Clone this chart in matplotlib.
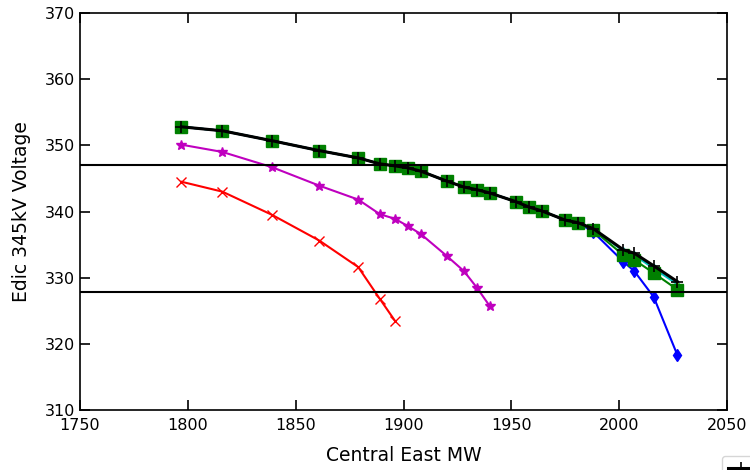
import numpy as np
import matplotlib
matplotlib.use("Agg")
import matplotlib.pyplot as plt

# Central East MW transfer levels
mw = [1797, 1816, 1839, 1861, 1879, 1889, 1896, 1902, 1908, 1920, 1928, 1934,
      1940, 1952, 1958, 1964, 1975, 1981, 1988, 2002, 2007, 2016, 2027]

# common upper part of the four overlapping cases
v_base = [352.8, 352.2, 350.7, 349.2, 348.1, 347.2, 346.9, 346.6, 346.1, 344.6,
          343.7, 343.3, 342.8, 341.5, 340.7, 340.1, 338.7, 338.3]

v_blue = v_base + [336.9, 332.4, 331.0, 327.1, 318.3]
v_cyan = v_base + [337.4, 334.0, 333.4, 331.4, 329.0]
v_green = v_base + [337.2, 333.4, 332.7, 330.7, 328.2]
v_black = v_base + [337.4, 334.2, 333.7, 331.8, 329.4]

mw_mag = mw[:13]
v_mag = [350.1, 349.0, 346.7, 343.9, 341.8, 339.6, 338.9, 337.8, 336.6, 333.3,
         331.0, 328.5, 325.7]

mw_red = mw[:7]
v_red = [344.5, 343.0, 339.5, 335.6, 331.6, 326.8, 323.5]

limits = [347.1, 327.8]

fig = plt.figure(figsize=(7.5, 4.7), dpi=100)
ax = fig.add_axes([0.1067, 0.1277, 0.8626, 0.8446])

lw = 1.5
ax.plot(mw, v_blue, color="b", marker="d", ms=6, lw=lw, label="case 1")
ax.plot(mw, v_cyan, color="c", marker="^", ms=6, lw=lw, label="case 2")
ax.plot(mw, v_cyan, color="y", marker=".", ms=3, lw=0, label="case 3")
ax.plot(mw, v_green, color="g", marker="s", ms=8, lw=lw, label="case 4")
ax.plot(mw, v_black, color="k", marker="+", ms=9, mew=1.2, lw=2.2, label="case 5")
ax.plot(mw_mag, v_mag, color="m", marker="*", ms=7, lw=lw, label="case 6")
ax.plot(mw_red, v_red, color="r", marker="x", ms=7, lw=lw, label="case 7")

for v in limits:
    ax.axhline(v, color="k", lw=1.5)

ax.set_xlim(1750, 2050)
ax.set_ylim(310, 370)
ax.set_xticks(np.arange(1750, 2051, 50))
ax.set_yticks(np.arange(310, 371, 10))
ax.tick_params(direction="in", top=True, right=True, length=7, width=1.2, labelsize=11.5)
ax.tick_params(axis="x", pad=6)
for s in ax.spines.values():
    s.set_linewidth(1.2)

ax.set_xlabel("Central East MW", fontsize=13.5, labelpad=9)
ax.set_ylabel("Edic 345kV Voltage", fontsize=13.5, labelpad=10)

# legend sits mostly off the canvas, as in the original
handles, labels = ax.get_legend_handles_labels()
fig.legend([handles[4]], [labels[4]], loc="upper left", borderaxespad=0,
           bbox_to_anchor=(722 / 750, 1 - 456 / 470), fontsize=10, frameon=True)

fig.savefig("out.png", dpi=100)
